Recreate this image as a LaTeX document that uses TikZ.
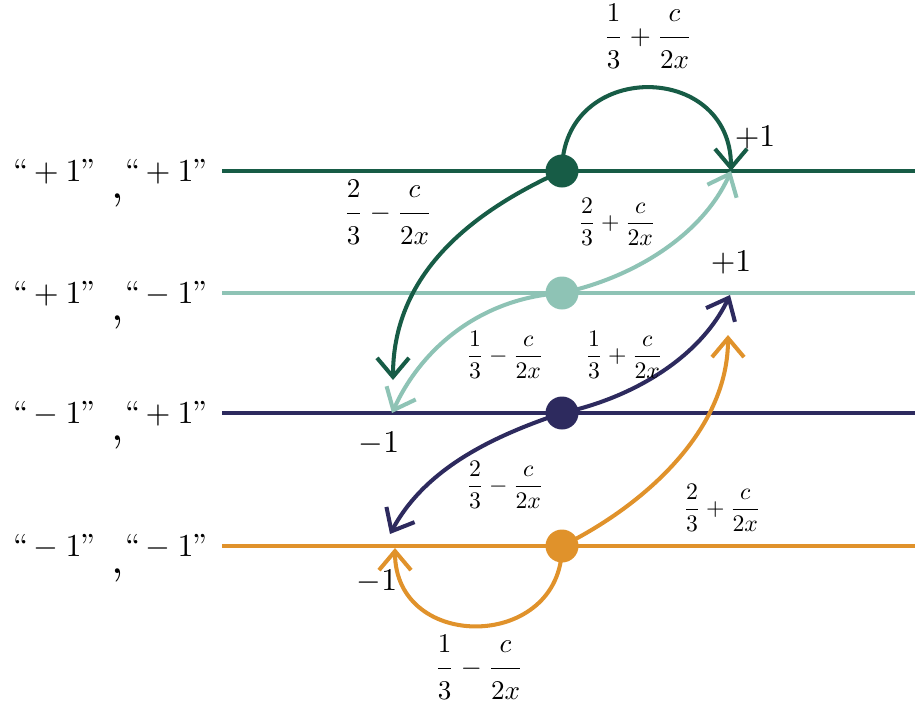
\documentclass[tikz,border=0pt]{standalone}
\usepackage{graphicx}
\usepackage{amsmath}
\usetikzlibrary{arrows.meta}
\definecolor{cA}{HTML}{175C46}
\definecolor{cB}{HTML}{8EC3B5}
\definecolor{cC}{HTML}{2D2A5E}
\definecolor{cD}{HTML}{E0922B}
\newcommand\ofr[2]{\dfrac{\rule[-0.45em]{0pt}{0.45em}#1}{\rule{0pt}{1em}#2}}
\newcommand\olab[2]{\scalebox{1.54}{$\ofr{#1}{3}#2\ofr{c}{2x}$}}
\newcommand\mlab[2]{\scalebox{1.35}{$\dfrac{#1}{3}#2\dfrac{c}{2x}$}}
\newcommand\slab[2]{\scalebox{1.82}{$``#11"\mkern8mu\raisebox{-5.5pt}{\scalebox{1.4}{,}}\mkern-1mu``#21"$}}
\newcommand\vlab[1]{\scalebox{1.8}{$#1$}}
\begin{document}
\begin{tikzpicture}[x=0.02cm,y=-0.02cm,
  hline/.style={line width=2.3pt},
  conn/.style={line width=2.3pt,-{Straight Barb[length=3.8mm,width=6.4mm]}},
  dot/.style={circle,fill,inner sep=0pt,minimum size=0.66cm},
  lab/.style={inner sep=0pt,text=black}]
\useasboundingbox (0,0) rectangle (915,704);
% coordinates
\coordinate (c1) at (562,171);
\coordinate (c2) at (562,293);
\coordinate (c3) at (562,413);
\coordinate (c4) at (562,546);
\coordinate (a1) at (222,171); \coordinate (e1) at (915,171);
\coordinate (a2) at (222,293); \coordinate (e2) at (915,293);
\coordinate (a3) at (222,413); \coordinate (e3) at (915,413);
\coordinate (a4) at (222,546); \coordinate (e4) at (915,546);
\coordinate (p1) at (731,171);
\coordinate (m3) at (393,380);
\coordinate (m3b) at (392,413);
\coordinate (p2) at (730,295);
\coordinate (m4) at (390,534);
\coordinate (p2b) at (728,335);
\coordinate (m4b) at (395,548);
% left labels
\node[lab,anchor=base east] (l1) at (210,181) {\slab{+}{+}};
\node[lab,anchor=base east] (l2) at (210,303) {\slab{+}{-}};
\node[lab,anchor=base east] (l3) at (210,423) {\slab{-}{+}};
\node[lab,anchor=base east] (l4) at (210,556) {\slab{-}{-}};
% horizontal lines
\draw[hline,cA] (a1) -- (e1);
\draw[hline,cB] (a2) -- (e2);
\draw[hline,cC] (a3) -- (e3);
\draw[hline,cD] (a4) -- (e4);
% connectors
\draw[conn,cA] (c1) .. controls (562,60) and (731,60) .. (p1);
\draw[conn,cA] (c1) .. controls (462,216) and (393,280) .. (m3);
\draw[conn,cB] (c2) .. controls (632,278) and (702,236) .. (p1);
\draw[conn,cB] (c2) .. controls (482,298) and (422,347) .. (m3b);
\draw[conn,cC] (c3) .. controls (632,398) and (700,358) .. (p2);
\draw[conn,cC] (c3) .. controls (487,438) and (424,471) .. (m4);
\draw[conn,cD] (c4) .. controls (562,651) and (395,653) .. (m4b);
\draw[conn,cD] (c4) .. controls (645,505) and (728,430) .. (p2b);
% dots
\node[dot,cA] (d1) at (c1) {};
\node[dot,cB] (d2) at (c2) {};
\node[dot,cC] (d3) at (c3) {};
\node[dot,cD] (d4) at (c4) {};
% value labels
\node[lab] (v1) at (755,138) {\vlab{+1}};
\node[lab] (v2) at (731,263) {\vlab{+1}};
\node[lab] (v3) at (379,444) {\vlab{-1}};
\node[lab] (v4) at (377,582) {\vlab{-1}};
% fraction labels
\node[lab] (f1) at (648,36) {\olab{1}{+}};
\node[lab] (f2) at (388,212) {\olab{2}{-}};
\node[lab] (f3) at (617,222) {\mlab{2}{+}};
\node[lab] (f4) at (505,355) {\mlab{1}{-}};
\node[lab] (f5) at (624,355) {\mlab{1}{+}};
\node[lab] (f6) at (505,485) {\mlab{2}{-}};
\node[lab] (f7) at (722,508) {\mlab{2}{+}};
\node[lab] (f8) at (479,667) {\olab{1}{-}};
\end{tikzpicture}
\end{document}
